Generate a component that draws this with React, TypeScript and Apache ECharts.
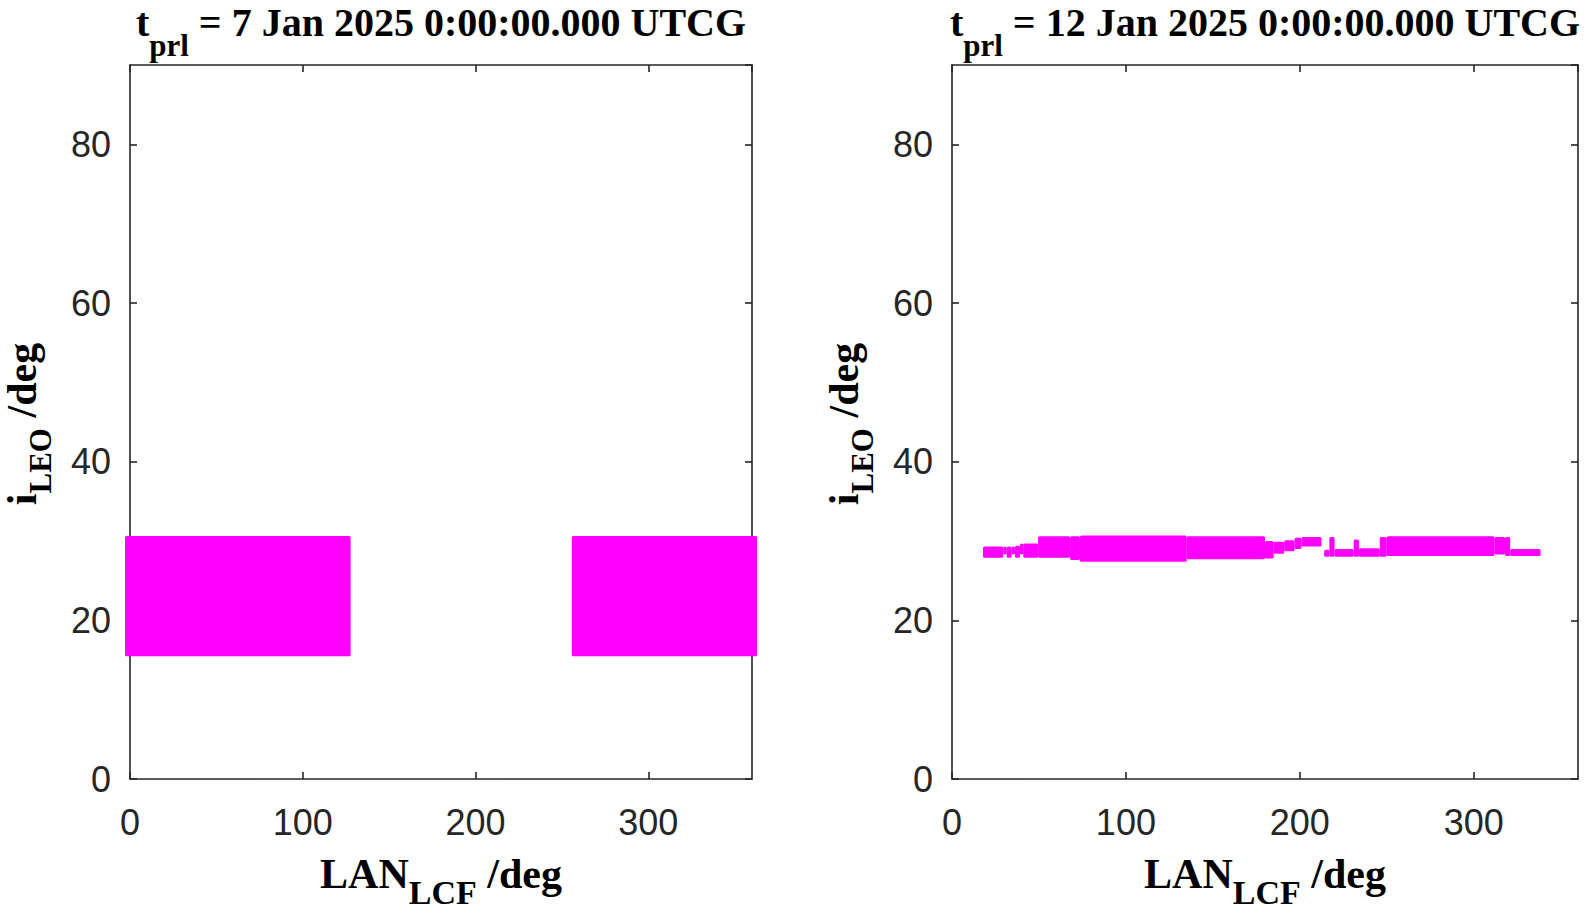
import React, { useEffect, useRef } from 'react';
import * as echarts from 'echarts';

// ---- data ----
const LAN_MIN = 0;
const LAN_MAX = 360;
const LAN_INTERVAL = 100;
const INC_MIN = 0;
const INC_MAX = 90;
const INC_INTERVAL = 20;

const leftTitleText = ' = 7 Jan 2025 0:00:00.000 UTCG';
const rightTitleText = ' = 12 Jan 2025 0:00:00.000 UTCG';

// filled regions of the scatter: [LAN start, LAN end, i low, i high] (deg)
const leftBlocks = [
  [0, 124.8, 16.1, 30.0],
  [258.6, 360, 16.1, 30.0],
];

const rightBand = [
  [17.8, 29.5, 27.9, 29.3],
  [29.5, 31.4, 28.3, 29.3],
  [31.4, 34.3, 27.9, 29.3],
  [34.3, 36.2, 28.3, 29.3],
  [36.2, 39.1, 27.9, 29.4],
  [39.1, 41.0, 28.3, 29.7],
  [41.0, 49.5, 27.9, 29.7],
  [49.5, 67.9, 27.9, 30.6],
  [67.9, 73.6, 27.6, 30.6],
  [73.6, 135, 27.4, 30.7],
  [135, 180, 27.7, 30.6],
  [180, 185, 27.8, 30.0],
  [185, 191, 28.4, 29.9],
  [191, 197, 28.7, 30.1],
  [197, 201, 29.0, 30.4],
  [201, 212.5, 29.3, 30.5],
  [214, 217, 28.0, 28.9],
  [217, 220, 28.0, 30.5],
  [220, 231, 28.0, 29.0],
  [231, 234, 28.0, 30.2],
  [234, 246, 28.0, 29.1],
  [246, 250, 28.0, 30.5],
  [250, 312, 28.1, 30.6],
  [312, 318, 28.3, 30.5],
  [318, 321, 28.1, 30.5],
  [321, 338.5, 28.1, 29.0],
];

// ---- styles ----
const AXIS_COLOR = '#262626';
const MAGENTA = '#ff00ff';
const SERIF = '"Liberation Serif", "Times New Roman", serif';
const SANS = '"Liberation Sans", Arial, Helvetica, sans-serif';

const grids = [
  { left: 130, top: 65, width: 622, height: 714 },
  { left: 952, top: 65, width: 626, height: 714 },
];

let measureCtx: CanvasRenderingContext2D | null = null;
function measure(text: string, font: string): number {
  if (!measureCtx) measureCtx = document.createElement('canvas').getContext('2d');
  if (!measureCtx) return text.length * 20;
  measureCtx.font = font;
  return measureCtx.measureText(text).width;
}

type Part = { text: string; size: number; dy: number };
function composite(parts: Part[], cx: number, cy: number, rotation = 0) {
  const fonts = parts.map((p) => `bold ${p.size}px ${SERIF}`);
  const widths = parts.map((p, i) => measure(p.text, fonts[i]));
  const total = widths.reduce((a, b) => a + b, 0);
  let x = -total / 2;
  const children = parts.map((p, i) => {
    const el = {
      type: 'text',
      x,
      y: p.dy,
      style: {
        text: p.text,
        font: fonts[i],
        fill: '#000000',
        align: 'left',
        verticalAlign: 'middle',
        textAlign: 'left',
        textVerticalAlign: 'middle',
      },
    };
    x += widths[i];
    return el;
  });
  return { type: 'group', x: cx, y: cy, rotation, children };
}

function makeXAxis(gridIndex: number, position: 'bottom' | 'top') {
  return {
    gridIndex,
    type: 'value',
    position,
    min: LAN_MIN,
    max: LAN_MAX,
    interval: LAN_INTERVAL,
    axisLine: { show: true, onZero: false, lineStyle: { color: AXIS_COLOR, width: 1.6 } },
    axisTick: { show: true, inside: true, length: 7, lineStyle: { color: AXIS_COLOR, width: 1.6 } },
    axisLabel: {
      show: position === 'bottom',
      color: AXIS_COLOR,
      fontSize: 36,
      fontFamily: SANS,
      margin: 25,
      showMaxLabel: false,
    },
    splitLine: { show: false },
  };
}

function makeYAxis(gridIndex: number, position: 'left' | 'right') {
  return {
    gridIndex,
    type: 'value',
    position,
    min: INC_MIN,
    max: INC_MAX,
    interval: INC_INTERVAL,
    axisLine: { show: true, onZero: false, lineStyle: { color: AXIS_COLOR, width: 1.6 } },
    axisTick: { show: true, inside: true, length: 7, lineStyle: { color: AXIS_COLOR, width: 1.6 } },
    axisLabel: {
      show: position === 'left',
      color: AXIS_COLOR,
      fontSize: 36,
      fontFamily: SANS,
      margin: 19,
      showMaxLabel: false,
    },
    splitLine: { show: false },
  };
}

function regionSeries(data: number[][], xAxisIndex: number, yAxisIndex: number, pad: number) {
  return {
    type: 'custom',
    xAxisIndex,
    yAxisIndex,
    clip: false,
    silent: true,
    encode: { x: [0, 1], y: [2, 3] },
    data,
    renderItem: (_params: any, api: any) => {
      const p0 = api.coord([api.value(0), api.value(3)]);
      const p1 = api.coord([api.value(1), api.value(2)]);
      return {
        type: 'rect',
        shape: {
          x: p0[0] - pad,
          y: p0[1] - pad,
          width: p1[0] - p0[0] + 2 * pad,
          height: p1[1] - p0[1] + 2 * pad,
          r: 1.5,
        },
        style: { fill: MAGENTA, stroke: null },
      };
    },
  };
}

export default function App() {
  const ref = useRef<HTMLDivElement>(null);

  useEffect(() => {
    document.body.style.margin = '0';
    if (!ref.current) return;
    const chart = echarts.init(ref.current, undefined, { renderer: 'svg' });

    const centerX = (g: { left: number; width: number }) => g.left + g.width / 2;
    const centerY = grids[0].top + grids[0].height / 2;

    const graphics: any[] = [];
    const titles = [leftTitleText, rightTitleText];
    grids.forEach((g, k) => {
      graphics.push(
        composite(
          [
            { text: 't', size: 40, dy: 0 },
            { text: 'prl', size: 31, dy: 23 },
            { text: titles[k], size: 40, dy: 0 },
          ],
          centerX(g),
          22
        )
      );
      graphics.push(
        composite(
          [
            { text: 'LAN', size: 42, dy: 0 },
            { text: 'LCF', size: 34, dy: 18 },
            { text: ' /deg', size: 42, dy: 0 },
          ],
          centerX(g),
          874
        )
      );
      graphics.push(
        composite(
          [
            { text: 'i', size: 42, dy: 0 },
            { text: 'LEO', size: 31, dy: 18 },
            { text: ' /deg', size: 42, dy: 0 },
          ],
          g.left - 108,
          centerY + 2,
          Math.PI / 2
        )
      );
    });

    chart.setOption({
      animation: false,
      backgroundColor: '#ffffff',
      grid: grids.map((g) => ({ ...g, containLabel: false })),
      xAxis: [makeXAxis(0, 'bottom'), makeXAxis(0, 'top'), makeXAxis(1, 'bottom'), makeXAxis(1, 'top')],
      yAxis: [makeYAxis(0, 'left'), makeYAxis(0, 'right'), makeYAxis(1, 'left'), makeYAxis(1, 'right')],
      series: [regionSeries(leftBlocks, 0, 0, 5), regionSeries(rightBand, 2, 2, 0)],
      graphic: graphics,
    });

    return () => chart.dispose();
  }, []);

  return (
    <div
      ref={ref}
      style={{ position: 'fixed', left: 0, top: 0, width: 1594, height: 913, background: '#ffffff' }}
    />
  );
}
